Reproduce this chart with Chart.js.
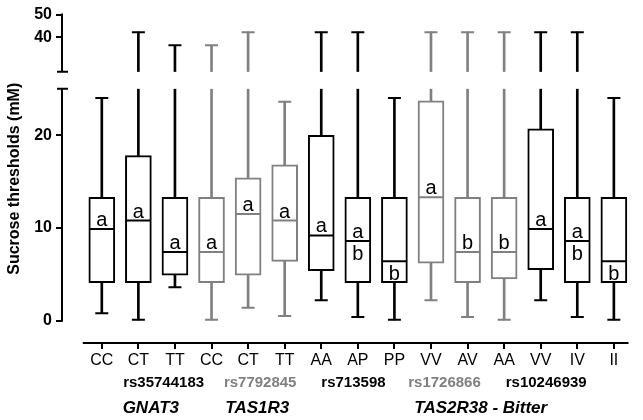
<!DOCTYPE html>
<html>
<head>
<meta charset="utf-8">
<script src="https://cdn.jsdelivr.net/npm/chart.js"></script>
<style>
    html, body { margin: 0; padding: 0; background: #fff; }
    #grafico { display: block; }
</style>
</head>
<body>
<canvas id="grafico" width="643" height="420"></canvas>
<script>
// DATA

// genotypes along the x axis
const genotypes = ['CC', 'CT', 'TT', 'CC', 'CT', 'TT', 'AA', 'AP', 'PP', 'VV', 'AV', 'AA', 'VV', 'IV', 'II']
// which SNP each genotype belongs to (index into snps)
const snpOfGenotype = [0, 0, 0, 1, 1, 1, 2, 2, 2, 3, 3, 3, 4, 4, 4]
const snps = ['rs35744183', 'rs7792845', 'rs713598', 'rs1726866', 'rs10246939']
const genes = ['GNAT3', 'TAS1R3', 'TAS2R38 - Bitter']

// box plot values (mM)
const whiskerLow  = [0.8, 0.1, 3.6, 0.1, 1.4, 0.5, 2.2, 0.4, 0.1, 2.2, 0.4, 0.1, 2.2, 0.4, 0.1]
const quartile1   = [4.1, 4.1, 4.9, 4.1, 4.9, 6.4, 5.4, 4.1, 4.1, 6.2, 4.1, 4.5, 5.5, 4.1, 4.1]
const medians     = [9.9, 10.8, 7.4, 7.4, 11.5, 10.8, 9.2, 8.6, 6.4, 13.3, 7.4, 7.4, 9.9, 8.6, 6.4]
const quartile3   = [13.3, 17.8, 13.3, 13.3, 15.4, 16.8, 20.0, 13.3, 13.3, 23.7, 13.3, 13.3, 20.7, 13.3, 13.3]
const whiskerHigh = [24.0, 42.3, 36.6, 36.6, 42.3, 23.6, 42.3, 42.3, 24.0, 42.3, 42.3, 42.3, 42.3, 42.3, 24.0]

// significance letters above / below the median
const letterAbove = ['a', 'a', 'a', 'a', 'a', 'a', 'a', 'a', '', 'a', 'b', 'b', 'a', 'a', '']
const letterBelow = ['', '', '', '', '', '', '', 'b', 'b', '', '', '', '', 'b', 'b']

const yTicks = [0, 10, 20, 40, 50]

// SETUP

const PRETO = '#000000'
const CINZA = '#808080'
const corDoSnp = (i) => i % 2 === 0 ? PRETO : CINZA
const cores = snpOfGenotype.map(corDoSnp)

// broken y axis: lower part 0..25 takes most of the height, then a gap, then 25..50
const QUEBRA = 25
const FRACAO_BAIXO = 0.7737
const FRACAO_CIMA = 0.8254

const LinearScale = Chart.registry.getScale('linear')
class BrokenScale extends LinearScale {
    getPixelForValue(value) {
        let dec
        if (value <= QUEBRA) dec = (value - this.min) / (QUEBRA - this.min) * FRACAO_BAIXO
        else dec = FRACAO_CIMA + (value - QUEBRA) / (this.max - QUEBRA) * (1 - FRACAO_CIMA)
        return this.getPixelForDecimal(dec)
    }
    getValueForPixel(pixel) {
        const dec = this.getDecimalForPixel(pixel)
        if (dec <= FRACAO_BAIXO) return this.min + dec / FRACAO_BAIXO * (QUEBRA - this.min)
        return QUEBRA + Math.max(0, dec - FRACAO_CIMA) / (1 - FRACAO_CIMA) * (this.max - QUEBRA)
    }
}
BrokenScale.id = 'broken'
BrokenScale.defaults = {}
Chart.register(BrokenScale)

Chart.defaults.font.family = '"Liberation Sans", Arial, sans-serif'
Chart.defaults.color = PRETO

// where the second and third label rows sit (in x index units)
const posicaoSnp = [1.69, 4.33, 6.88, 9.37, 12.15]
const posicaoGene = [1.34, 4.25, 10.36]

// axis lines, the white break band and the letters
const decoracao = {
    id: 'decoracao',
    afterDatasetsDraw(chart) {
        const {ctx, chartArea, scales: {x, y}} = chart
        const topoGap = y.getPixelForDecimal(FRACAO_CIMA)
        const baseGap = y.getPixelForDecimal(FRACAO_BAIXO)

        ctx.save()
        ctx.fillStyle = '#fff'
        ctx.fillRect(chartArea.left + 2, topoGap, chartArea.right - chartArea.left, baseGap - topoGap)

        const ax = chartArea.left
        ctx.strokeStyle = PRETO
        ctx.lineWidth = 2
        ctx.beginPath()
        ctx.moveTo(ax, y.getPixelForValue(0) + 1)
        ctx.lineTo(ax, baseGap)
        ctx.moveTo(ax - 5, baseGap)
        ctx.lineTo(ax + 6, baseGap)
        ctx.moveTo(ax, y.getPixelForValue(50) - 1)
        ctx.lineTo(ax, topoGap)
        ctx.moveTo(ax - 5, topoGap)
        ctx.lineTo(ax + 6, topoGap)
        ctx.moveTo(x.getPixelForValue(-0.52), chartArea.bottom)
        ctx.lineTo(chartArea.right, chartArea.bottom)
        ctx.stroke()

        ctx.fillStyle = PRETO
        ctx.font = '20px "Liberation Sans", Arial, sans-serif'
        ctx.textAlign = 'center'
        ctx.textBaseline = 'alphabetic'
        genotypes.forEach((g, i) => {
            const px = x.getPixelForValue(i)
            const py = y.getPixelForValue(medians[i])
            if (letterAbove[i]) ctx.fillText(letterAbove[i], px, py - 3)
            if (letterBelow[i]) ctx.fillText(letterBelow[i], px, py + 19)
        })
        ctx.restore()
    }
}

const ponto = (arr) => arr.map((v, i) => ({x: i, y: v}))
const faixa = (a, b) => a.map((v, i) => ({x: i, y: [v, b[i]]}))

const data = {
    datasets: [
        {
            type: 'line', order: 0, data: ponto(medians),
            showLine: false, pointStyle: 'line', pointRadius: 12.5, pointHoverRadius: 12.5,
            pointBorderWidth: 2, pointBorderColor: cores, pointBackgroundColor: cores
        },
        {
            type: 'line', order: 0, data: ponto(whiskerHigh),
            showLine: false, pointStyle: 'line', pointRadius: 6.5, pointHoverRadius: 6.5,
            pointBorderWidth: 2, pointBorderColor: cores, pointBackgroundColor: cores
        },
        {
            type: 'line', order: 0, data: ponto(whiskerLow),
            showLine: false, pointStyle: 'line', pointRadius: 6.5, pointHoverRadius: 6.5,
            pointBorderWidth: 2, pointBorderColor: cores, pointBackgroundColor: cores
        },
        {
            type: 'bar', order: 1, data: faixa(quartile1, quartile3),
            backgroundColor: '#fff', borderColor: cores, borderWidth: 2,
            borderSkipped: false, barThickness: 26, grouped: false
        },
        {
            type: 'bar', order: 2, data: faixa(quartile3, whiskerHigh),
            backgroundColor: cores, borderWidth: 0, barThickness: 2, grouped: false
        },
        {
            type: 'bar', order: 2, data: faixa(whiskerLow, quartile1),
            backgroundColor: cores, borderWidth: 0, barThickness: 2, grouped: false
        }
    ]
}

const linhaExtra = (posicoes, textos, cor, fonte, padding, altura, peso) => ({
    type: 'linear', axis: 'x', position: 'bottom', weight: peso,
    min: -1.088, max: 14.4, offset: false,
    afterBuildTicks: (s) => { s.ticks = posicoes.map(v => ({value: v})) },
    afterFit: (s) => { s.height = altura },
    grid: {display: false, drawTicks: false, offset: false},
    border: {display: false},
    ticks: {
        autoSkip: false, maxRotation: 0, minRotation: 0, padding: padding,
        color: cor, font: fonte,
        callback: (v, i) => textos[i]
    }
})

// CONFIG

const config = {
    type: 'bar',
    data: data,
    plugins: [decoracao],
    options: {
        responsive: false,
        animation: false,
        events: [],
        layout: {padding: {top: 14, right: 0, bottom: 0, left: 0}},
        plugins: {legend: {display: false}, tooltip: {enabled: false}},
        scales: {
            x: {
                type: 'linear', position: 'bottom', weight: 0,
                min: -1.088, max: 14.4, offset: false,
                afterBuildTicks: (s) => { s.ticks = genotypes.map((g, i) => ({value: i})) },
                afterFit: (s) => { s.height = 27 },
                grid: {drawOnChartArea: false, drawTicks: true, tickLength: 6, lineWidth: 2, color: PRETO, offset: false},
                border: {display: false},
                ticks: {
                    autoSkip: false, maxRotation: 0, minRotation: 0, padding: 2,
                    color: PRETO, font: {size: 16},
                    callback: (v, i) => genotypes[i]
                }
            },
            xRs: linhaExtra(posicaoSnp, snps, (c) => corDoSnp(c.index), {size: 15, weight: 'bold'}, 4, 23, 1),
            xGene: linhaExtra(posicaoGene, genes, PRETO, {size: 17, weight: 'bold', style: 'italic'}, 5, 27, 2),
            y: {
                type: 'broken', position: 'left',
                min: -2.4, max: 50,
                afterBuildTicks: (s) => { s.ticks = yTicks.map(v => ({value: v})) },
                afterFit: (s) => { s.width = 62 },
                grid: {drawOnChartArea: false, drawTicks: true, tickLength: 6, lineWidth: 2, color: PRETO},
                border: {display: false},
                ticks: {autoSkip: false, padding: 4, color: PRETO, font: {size: 16, weight: 'bold'}},
                title: {
                    display: true, text: 'Sucrose thresholds (mM)', color: PRETO,
                    font: {size: 16, weight: 'bold'}, padding: {top: 5, bottom: 0}
                }
            }
        }
    }
}

// RENDER

const grafico = new Chart(document.getElementById('grafico'), config)
</script>
</body>
</html>
